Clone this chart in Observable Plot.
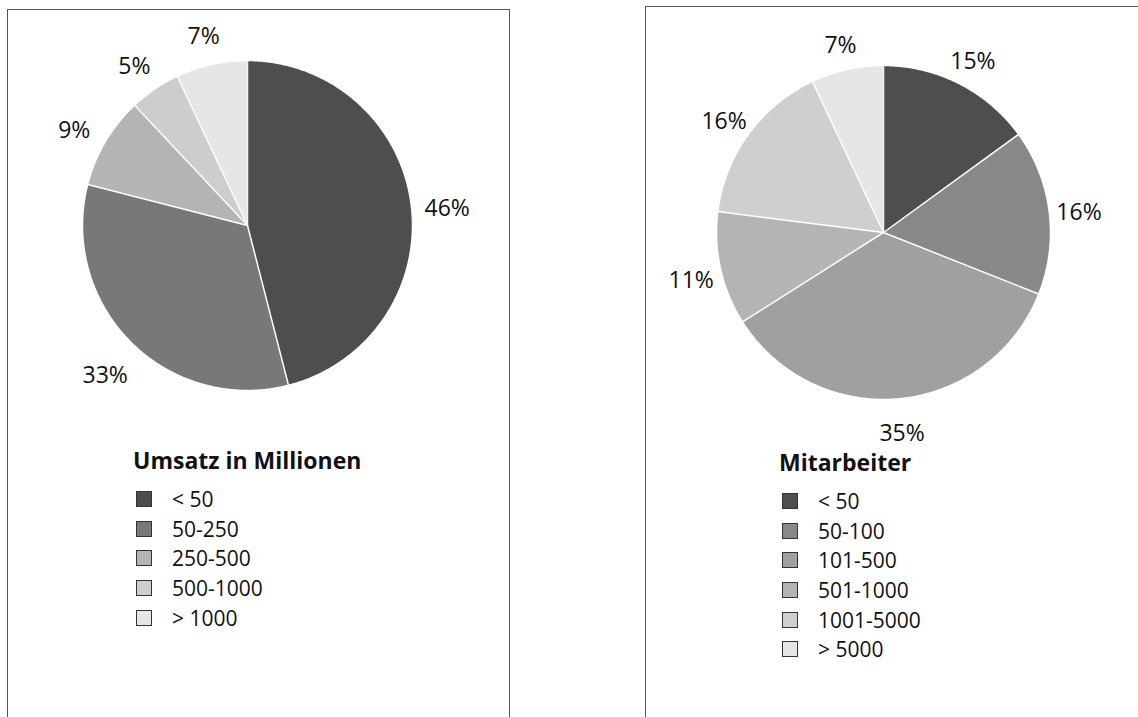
<!DOCTYPE html>
<html>
<head>
<meta charset="utf-8">
<script src="https://cdn.jsdelivr.net/npm/d3@7"></script>
<script src="https://cdn.jsdelivr.net/npm/@observablehq/plot@0.6"></script>
<style>
  html, body { margin: 0; padding: 0; background: #fff; }
  #page { position: relative; width: 1138px; height: 717px; overflow: hidden; font-family: "Open Sans", "Noto Sans", sans-serif; color: #111; }
  .box { position: absolute; border: 1px solid #555; border-bottom: none; }
  .pie { position: absolute; }
  .legend { position: absolute; }
  .legend .title { font-weight: bold; font-size: 23px; line-height: 22px; margin-bottom: 13px; white-space: nowrap; }
  .legend .row { display: flex; align-items: center; height: 29.7px; font-size: 21px; white-space: nowrap; }
  .legend .sw { width: 16px; height: 16px; border: 1px solid #333; box-sizing: border-box; margin-right: 20px; margin-left: 3px; }
</style>
</head>
<body>
<div id="page"></div>
<script>
// ---- data ----
const umsatzTitle = "Umsatz in Millionen";
const umsatzCats = ["< 50", "50-250", "250-500", "500-1000", "> 1000"];
const umsatzValues = [46, 33, 9, 5, 7];

const mitarbeiterTitle = "Mitarbeiter";
const mitarbeiterCats = ["< 50", "50-100", "101-500", "501-1000", "1001-5000", "> 5000"];
const mitarbeiterValues = [15, 16, 35, 11, 16, 7];

// ---- styles ----
const umsatzColors = ["#4e4e4e", "#787878", "#b4b4b4", "#cdcdcd", "#e6e6e6"];
const mitarbeiterColors = ["#4e4e4e", "#888888", "#a0a0a0", "#b4b4b4", "#cfcfcf", "#e6e6e6"];

const page = document.getElementById("page");

function addBox(left, top, width, height) {
  const b = document.createElement("div");
  b.className = "box";
  Object.assign(b.style, { left: left + "px", top: top + "px", width: width + "px", height: height + "px" });
  page.appendChild(b);
}

function pieChart(cats, values, colors, L) {
  const total = d3.sum(values);
  const pts = [];
  const labels = [];
  let acc = 0;
  values.forEach((v, i) => {
    const a0 = acc / total * 2 * Math.PI;
    acc += v;
    const a1 = acc / total * 2 * Math.PI;
    const n = Math.max(2, Math.ceil((a1 - a0) / (Math.PI / 360)));
    pts.push({ cat: cats[i], x: 0, y: 0 });
    for (let k = 0; k <= n; k++) {
      const a = a0 + (a1 - a0) * k / n;
      pts.push({ cat: cats[i], x: Math.sin(a), y: Math.cos(a) });
    }
    const m = (a0 + a1) / 2;
    labels.push({ x: L.lr * Math.sin(m), y: L.lr * Math.cos(m), text: v + "%" });
  });
  const x0 = -L.cx / L.r, x1 = (L.w - L.cx) / L.r;
  const y0 = -(L.h - L.cy) / L.r, y1 = L.cy / L.r;
  const svg = Plot.plot({
    width: L.w, height: L.h, margin: 0,
    style: { fontFamily: '"Open Sans", "Noto Sans", sans-serif', background: "transparent", overflow: "visible" },
    x: { domain: [x0, x1], axis: null },
    y: { domain: [y0, y1], axis: null },
    color: { type: "ordinal", domain: cats, range: colors },
    marks: [
      Plot.line(pts, { x: "x", y: "y", z: "cat", fill: "cat", stroke: "white", strokeWidth: 1.5, strokeLinejoin: "round", curve: "linear" }),
      Plot.text(labels, { x: "x", y: "y", text: "text", fontSize: 23, fill: "#111", dy: L.dy })
    ]
  });
  const wrap = document.createElement("div");
  wrap.className = "pie";
  wrap.style.left = L.left + "px";
  wrap.style.top = "0px";
  wrap.appendChild(svg);
  page.appendChild(wrap);
}

function legend(title, cats, colors, left, top) {
  const d = document.createElement("div");
  d.className = "legend";
  d.style.left = left + "px";
  d.style.top = top + "px";
  const t = document.createElement("div");
  t.className = "title";
  t.textContent = title;
  d.appendChild(t);
  cats.forEach((c, i) => {
    const row = document.createElement("div");
    row.className = "row";
    const sw = document.createElement("div");
    sw.className = "sw";
    sw.style.background = colors[i];
    const lab = document.createElement("span");
    lab.textContent = c;
    row.appendChild(sw);
    row.appendChild(lab);
    d.appendChild(row);
  });
  page.appendChild(d);
}

addBox(7, 9, 501, 720);
addBox(645, 6, 520, 720);

pieChart(umsatzCats, umsatzValues, umsatzColors, { left: 0, w: 520, h: 440, cx: 247, cy: 225, r: 165, lr: 1.22, dy: 8 });
pieChart(mitarbeiterCats, mitarbeiterValues, mitarbeiterColors, { left: 630, w: 508, h: 440, cx: 253, cy: 232, r: 167, lr: 1.18, dy: 5 });

legend(umsatzTitle, umsatzCats, umsatzColors, 133, 449);
legend(mitarbeiterTitle, mitarbeiterCats, mitarbeiterColors, 779, 451);
</script>
</body>
</html>
